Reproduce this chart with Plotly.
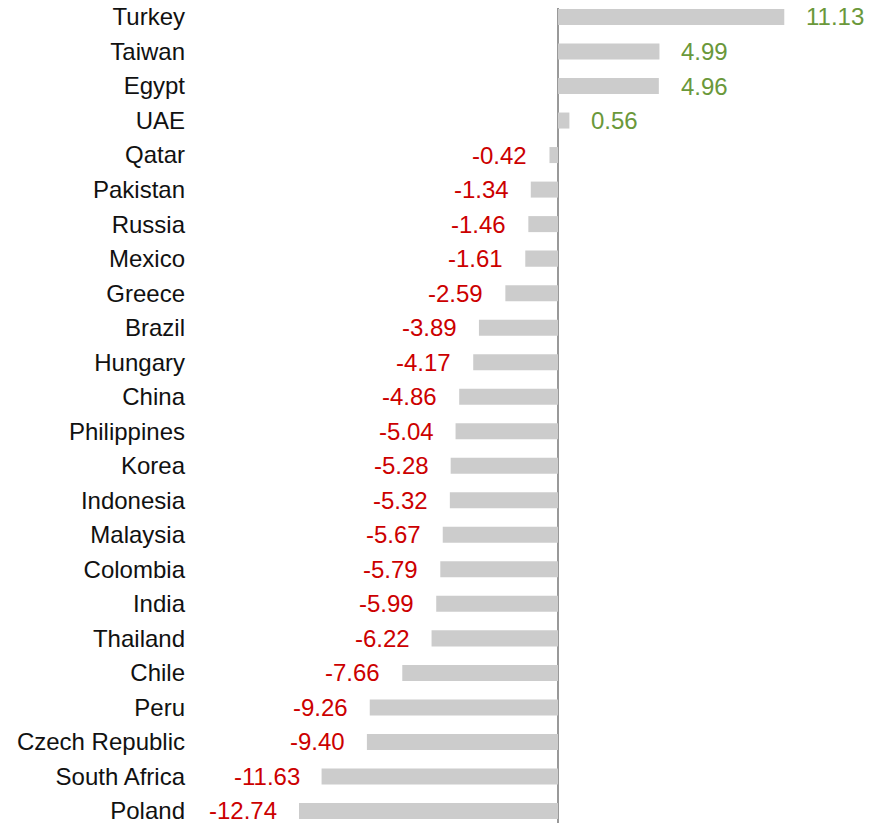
import plotly.graph_objects as go

countries = ["Turkey", "Taiwan", "Egypt", "UAE", "Qatar", "Pakistan", "Russia", "Mexico",
             "Greece", "Brazil", "Hungary", "China", "Philippines", "Korea", "Indonesia",
             "Malaysia", "Colombia", "India", "Thailand", "Chile", "Peru", "Czech Republic",
             "South Africa", "Poland"]
values = [11.13, 4.99, 4.96, 0.56, -0.42, -1.34, -1.46, -1.61, -2.59, -3.89, -4.17, -4.86,
          -5.04, -5.28, -5.32, -5.67, -5.79, -5.99, -6.22, -7.66, -9.26, -9.40, -11.63, -12.74]

FONT = "Liberation Sans, Arial, sans-serif"
GREEN = "#6a983a"
RED = "#cc0000"

fig = go.Figure()
fig.add_trace(go.Bar(
    y=countries, x=values, orientation="h",
    marker=dict(color="#cccccc", line=dict(width=0)),
    hoverinfo="x+y",
))

for c, v in zip(countries, values):
    pos = v >= 0
    fig.add_annotation(
        x=v, y=c, text=f"{v:.2f}", showarrow=False,
        xanchor="left" if pos else "right",
        xshift=20 if pos else -20,
        font=dict(family=FONT, size=24, color=GREEN if pos else RED),
    )

fig.update_layout(
    width=882, height=823,
    margin=dict(l=192, r=12, t=0, b=0, autoexpand=False),
    plot_bgcolor="white", paper_bgcolor="white",
    bargap=0.536,
    showlegend=False,
    font=dict(family=FONT, size=24, color="#111111"),
)
fig.update_xaxes(range=[-17.61, 15.74], showgrid=False, zeroline=True,
                 zerolinecolor="#999999", zerolinewidth=2, showticklabels=False,
                 showline=False, automargin=False)
fig.update_yaxes(categoryorder="array", categoryarray=countries,
                 range=[23.58, -0.26], showgrid=False, showline=False,
                 ticks="", ticklabelstandoff=14, automargin=False,
                 tickfont=dict(family=FONT, size=24, color="#111111"))

fig.write_html("out.html")
